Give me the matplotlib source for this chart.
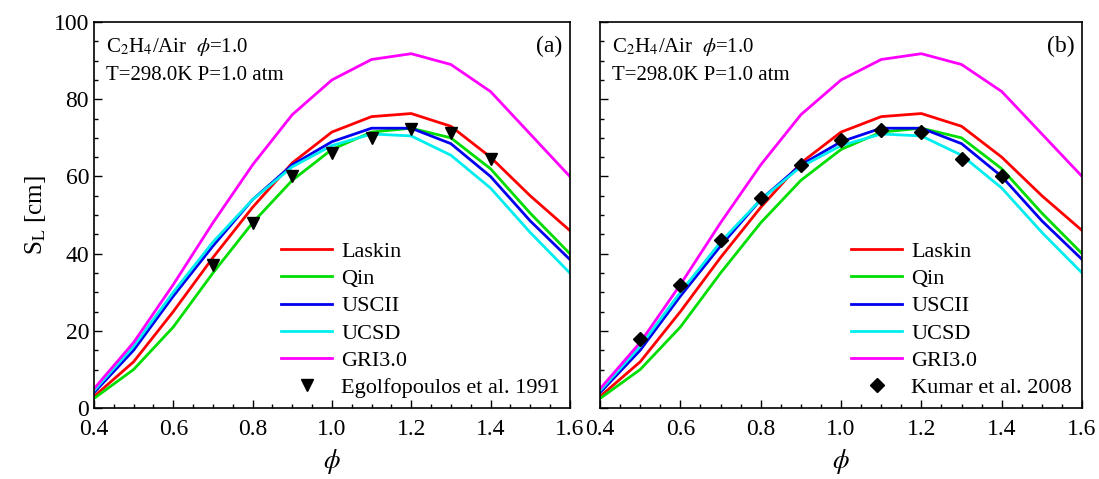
import matplotlib
matplotlib.use("Agg")
import matplotlib.pyplot as plt
from matplotlib.ticker import MultipleLocator

plt.rcParams["font.family"] = ["Liberation Serif", "DejaVu Serif"]
plt.rcParams["mathtext.fontset"] = "stix"

phi = [0.4, 0.5, 0.6, 0.7, 0.8, 0.9, 1.0, 1.1, 1.2, 1.3, 1.4, 1.5, 1.6]
laskin = [3, 12, 25, 39, 52, 63.5, 71.5, 75.5, 76.3, 73, 65, 55, 46]
qin = [2.5, 10, 21, 35, 48, 59, 67, 71.5, 72.5, 70, 62, 50.5, 40]
uscii = [4, 15, 29, 42, 54, 63, 69, 72.5, 72.5, 68.5, 60, 48.5, 38.5]
ucsd = [4.5, 16, 30, 43, 54, 62.5, 68, 71, 70.5, 65.5, 57, 45.5, 35]
gri30 = [5, 17, 32, 48, 63, 76, 85, 90.3, 91.8, 89, 82, 71, 60]

egol_phi = [0.7, 0.8, 0.9, 1.0, 1.1, 1.2, 1.3, 1.4]
egol_sl = [37, 48, 60, 66, 70, 72.3, 71.3, 64.5]

kumar_phi = [0.5, 0.6, 0.7, 0.8, 0.9, 1.0, 1.1, 1.2, 1.3, 1.4]
kumar_sl = [18, 32, 43.5, 54.5, 63, 69.5, 72, 71.5, 64.5, 60]

models = [
    ("Laskin", laskin, "#ff0000"),
    ("Qin", qin, "#00dd00"),
    ("USCII", uscii, "#0000ee"),
    ("UCSD", ucsd, "#00eeee"),
    ("GRI3.0", gri30, "#ff00ff"),
]

fig = plt.figure(figsize=(10.99, 4.79), dpi=100)
ax_a = fig.add_axes([0.0855, 0.148, 0.433, 0.806])
ax_b = fig.add_axes([0.546, 0.148, 0.4386, 0.806])

panels = [
    (ax_a, "(a)", egol_phi, egol_sl, "v", "Egolfopoulos et al. 1991", 8),
    (ax_b, "(b)", kumar_phi, kumar_sl, "D", "Kumar et al. 2008", 7),
]

for ax, tag, exp_x, exp_y, marker, exp_label, msize in panels:
    for name, values, color in models:
        ax.plot(phi, values, color=color, lw=2, label=name)
    ax.plot(exp_x, exp_y, ls="none", marker=marker, color="black",
            markersize=msize, label=exp_label)
    ax.set_xlim(0.4, 1.6)
    ax.set_ylim(0, 100)
    ax.xaxis.set_major_locator(MultipleLocator(0.2))
    ax.xaxis.set_minor_locator(MultipleLocator(0.05))
    ax.yaxis.set_major_locator(MultipleLocator(20))
    ax.yaxis.set_minor_locator(MultipleLocator(5))
    ax.tick_params(which="both", direction="in", labelsize=17)
    ax.tick_params(which="major", length=6, width=1)
    ax.tick_params(which="minor", length=3, width=1)
    ax.tick_params(axis="x", pad=8)
    ax.set_xticks([0.4, 0.6, 0.8, 1.0, 1.2, 1.4, 1.6])
    ax.set_xticklabels(["0.4", "0.6", "0.8", "1.0", "1.2", "1.4", "1.6"])
    for spine in ax.spines.values():
        spine.set_linewidth(1.2)
    ax.set_xlabel(r"$\phi$", fontsize=19, labelpad=5)
    ax.text(0.025, 0.965, r"C$_2$H$_4$/Air  $\phi$=1.0", transform=ax.transAxes,
            fontsize=15, va="top", ha="left")
    ax.text(0.025, 0.885, "T=298.0K P=1.0 atm", transform=ax.transAxes,
            fontsize=15, va="top", ha="left")
    ax.text(0.985, 0.965, tag, transform=ax.transAxes, fontsize=17,
            va="top", ha="right")
    ax.legend(loc="lower right", frameon=False, fontsize=16, handlelength=2.3,
              labelspacing=0.3, handletextpad=0.4, borderaxespad=0.05)

ax_a.set_ylabel(r"S$_\mathrm{L}$ [cm]", fontsize=18)
ax_b.set_yticklabels([])

fig.savefig("out.png", dpi=100)
